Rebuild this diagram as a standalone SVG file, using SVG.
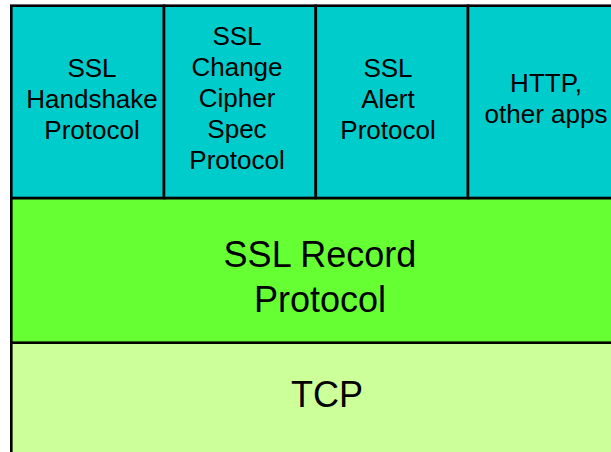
<svg xmlns="http://www.w3.org/2000/svg" width="611" height="452" viewBox="0 0 611 452">
<style>
.cell{stroke:#000;stroke-width:2.6}
.app{fill:#00CCCC}
.rec{fill:#66FF33}
.tcp{fill:#CCFF99}
text{font-family:"Liberation Sans",Arial,sans-serif;fill:#000;text-anchor:middle}
.s{font-size:26px}
.l{font-size:36px}
</style>
<rect width="611" height="452" fill="#fff"/>
<g id="tcp">
<rect class="cell tcp" x="11.3" y="342.7" width="620" height="130"/>
<text class="l" x="327" y="407">TCP</text>
</g>
<g id="ssl-record">
<rect class="cell rec" x="11.3" y="198" width="620" height="144.7"/>
<text class="l" x="320" y="267">SSL Record</text>
<text class="l" x="320" y="312">Protocol</text>
</g>
<g id="handshake">
<rect class="cell app" x="11.3" y="5.7" width="152.7" height="192.3"/>
<text class="s" x="92" y="77">SSL</text>
<text class="s" x="92" y="108">Handshake</text>
<text class="s" x="92" y="139">Protocol</text>
</g>
<g id="change-cipher">
<rect class="cell app" x="164" y="5.7" width="151.8" height="192.3"/>
<text class="s" x="237" y="45">SSL</text>
<text class="s" x="237" y="76">Change</text>
<text class="s" x="237" y="107">Cipher</text>
<text class="s" x="237" y="138">Spec</text>
<text class="s" x="237" y="169">Protocol</text>
</g>
<g id="alert">
<rect class="cell app" x="315.8" y="5.7" width="152.2" height="192.3"/>
<text class="s" x="388" y="77">SSL</text>
<text class="s" x="388" y="108">Alert</text>
<text class="s" x="388" y="139">Protocol</text>
</g>
<g id="http">
<rect class="cell app" x="468" y="5.7" width="170" height="192.3"/>
<text class="s" x="546" y="92">HTTP,</text>
<text class="s" x="546" y="123">other apps</text>
</g>
<g id="connectors"></g>
</svg>
